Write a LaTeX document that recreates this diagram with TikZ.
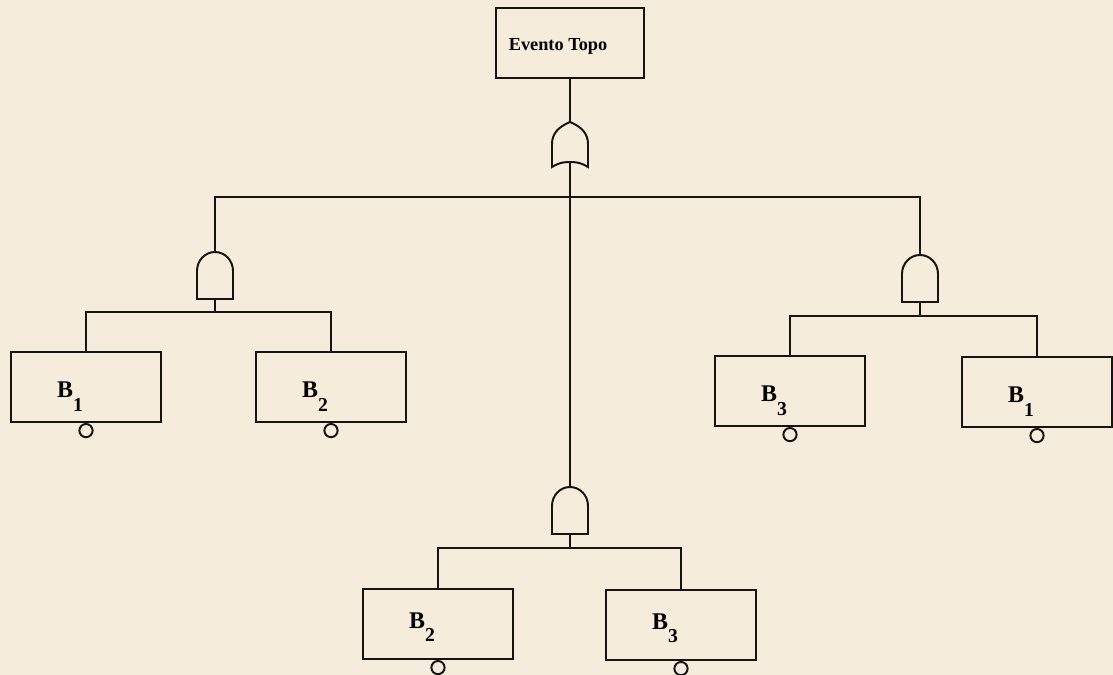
\documentclass[tikz,border=0pt]{standalone}
\usepackage{fontspec}
\setmainfont{Liberation Serif}
\usepackage{tikz}
\usetikzlibrary{positioning,calc}
\definecolor{paperbeige}{RGB}{245,236,219}
\definecolor{inkblack}{RGB}{22,20,18}

% basic event label: B with a dropped index, pushed to the left of the box
\newcommand{\basicev}[1]{B\raisebox{-9.7pt}{\fontsize{14}{14}\selectfont #1}\rule{22.7pt}{0pt}}

\tikzset{
  wire/.style={draw=inkblack, line width=1.4pt},
  event/.style={wire, minimum width=3.75cm, minimum height=1.75cm, inner sep=0pt,
    text height=15.6pt, text depth=0pt, font=\bfseries\fontsize{17}{17}\selectfont},
  lowevent/.style={event, text height=5.8pt},
  basic/.style={circle, wire, minimum size=0.33cm, inner sep=0pt, anchor=north},
  % AND gate, origin at the top of the dome
  andgate/.pic={
    \coordinate (-in) at (0,0);
    \coordinate (-out) at (0,47);
    \draw[wire] (-18,47) -- (-18,19) .. controls (-18,8.5) and (-10,0) .. (0,0)
      .. controls (10,0) and (18,8.5) .. (18,19) -- (18,47) -- cycle;
  },
  % OR gate, origin at the tip
  orgate/.pic={
    \coordinate (-in) at (0,0);
    \coordinate (-out) at (0,40);
    \draw[wire] (0,0) .. controls (12,5) and (18,12) .. (18,22) -- (18,45)
      .. controls (10,40) and (4,40) .. (0,40) .. controls (-4,40) and (-10,40) .. (-18,45)
      -- (-18,22) .. controls (-18,12) and (-12,5) .. cycle;
  }
}

\begin{document}
\begin{tikzpicture}[x=0.025cm, y=-0.025cm]
    % sheet
    \fill[paperbeige] (0,0) rectangle (1113,675);
    \useasboundingbox (0,0) rectangle (1113,675);

    % top event and its OR gate
    \node[event, minimum width=3.7cm, text height=10pt, font=\bfseries\fontsize{13}{13}\selectfont] (top) at (570,43) {Evento Topo\rule{17pt}{0pt}};
    \pic (gor) at (570,122) {orgate};
    \draw[wire] (top.south) -- (gor-in);

    % AND gates under the OR
    \pic (gand1) at (215,252) {andgate};
    \pic (gand2) at (920,255) {andgate};
    \pic (gand3) at (570,487) {andgate};
    \coordinate (bus) at (570,197);
    \draw[wire] (gand1-in) |- (bus) -| (gand2-in);
    \draw[wire] (gor-out) -- (gand3-in);

    % basic events
    \node[event] (b1a) at (86,387) {\basicev{1}};
    \node[event] (b2a) at (331,387) {\basicev{2}};
    \node[event] (b3a) at (790,391) {\basicev{3}};
    \node[event] (b1b) at (1037,392) {\basicev{1}};
    \node[lowevent] (b2b) at (438,624) {\basicev{2}};
    \node[lowevent] (b3b) at (681,625) {\basicev{3}};
    \foreach \b in {b1a,b2a,b3a,b1b,b2b,b3b}
        \node[basic] (\b-c) at (\b.south) {};

    % inputs of each AND gate
    \draw[wire] (gand1-out) -- ++(0,13) coordinate (j1);
    \draw[wire] (b1a.north) |- (j1) -| (b2a.north);
    \draw[wire] (gand2-out) -- ++(0,14) coordinate (j2);
    \draw[wire] (b3a.north) |- (j2) -| (b1b.north);
    \draw[wire] (gand3-out) -- ++(0,14) coordinate (j3);
    \draw[wire] (b2b.north) |- (j3) -| (b3b.north);
\end{tikzpicture}
\end{document}
